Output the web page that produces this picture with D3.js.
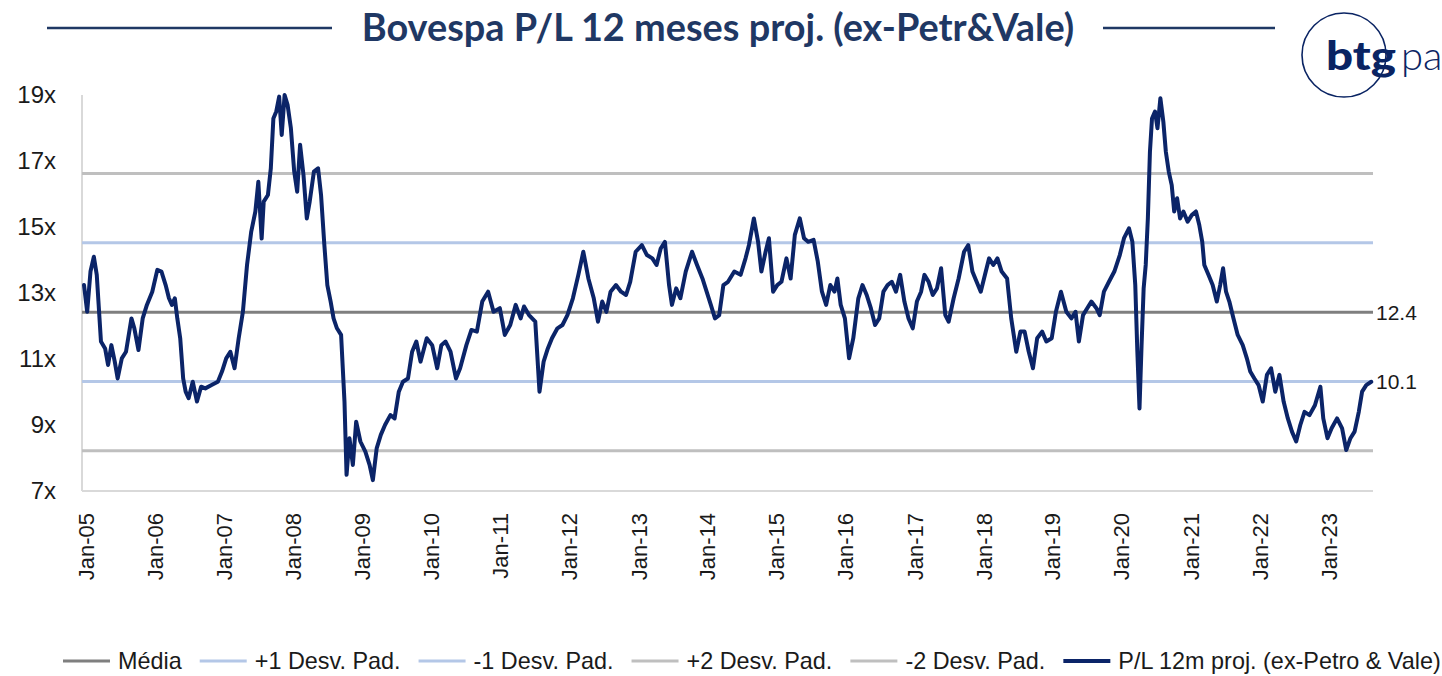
<!DOCTYPE html>
<html>
<head>
<meta charset="utf-8">
<script src="https://cdn.jsdelivr.net/npm/d3@7"></script>
<style>
  body { margin: 0; background: #fff; }
  svg { display: block; }
</style>
</head>
<body>
<svg id="chart" width="1442" height="676"></svg>
<script>
// P/L 12m proj. (ex-Petro & Vale), decimal years
const plYears = [
  2005.000, 2005.046, 2005.094, 2005.143, 2005.185, 2005.246, 2005.306, 2005.349, 2005.397, 2005.446,
  2005.488, 2005.548, 2005.609, 2005.688, 2005.730, 2005.790, 2005.851, 2005.912, 2005.990, 2006.063,
  2006.123, 2006.184, 2006.232, 2006.275, 2006.317, 2006.353, 2006.395, 2006.438, 2006.474, 2006.517,
  2006.577, 2006.638, 2006.698, 2006.759, 2006.850, 2006.941, 2007.001, 2007.062, 2007.122, 2007.183,
  2007.243, 2007.304, 2007.364, 2007.425, 2007.485, 2007.528, 2007.576, 2007.606, 2007.667, 2007.709,
  2007.746, 2007.788, 2007.830, 2007.867, 2007.909, 2007.952, 2008.000, 2008.048, 2008.091, 2008.133,
  2008.182, 2008.230, 2008.272, 2008.333, 2008.393, 2008.436, 2008.484, 2008.527, 2008.575, 2008.617,
  2008.666, 2008.726, 2008.775, 2008.805, 2008.847, 2008.896, 2008.944, 2009.005, 2009.077, 2009.138,
  2009.186, 2009.241, 2009.301, 2009.362, 2009.440, 2009.501, 2009.562, 2009.622, 2009.695, 2009.755,
  2009.816, 2009.877, 2009.967, 2010.046, 2010.119, 2010.179, 2010.240, 2010.312, 2010.391, 2010.451,
  2010.542, 2010.615, 2010.694, 2010.772, 2010.857, 2010.936, 2011.027, 2011.099, 2011.178, 2011.257,
  2011.329, 2011.378, 2011.450, 2011.541, 2011.602, 2011.662, 2011.723, 2011.783, 2011.862, 2011.935,
  2012.007, 2012.086, 2012.165, 2012.237, 2012.310, 2012.388, 2012.449, 2012.510, 2012.570, 2012.631,
  2012.709, 2012.782, 2012.855, 2012.915, 2012.994, 2013.084, 2013.157, 2013.236, 2013.297, 2013.357,
  2013.418, 2013.478, 2013.520, 2013.581, 2013.642, 2013.720, 2013.811, 2013.884, 2013.962, 2014.023,
  2014.084, 2014.144, 2014.205, 2014.266,
  2014.333, 2014.424, 2014.515, 2014.587, 2014.636, 2014.708, 2014.769, 2014.817, 2014.878, 2014.926,
  2014.987, 2015.047, 2015.108, 2015.180, 2015.241, 2015.302, 2015.374, 2015.435, 2015.495, 2015.574,
  2015.635, 2015.695, 2015.756, 2015.816, 2015.877, 2015.919, 2015.967, 2016.028, 2016.088, 2016.149,
  2016.222, 2016.282, 2016.343, 2016.403, 2016.464, 2016.524, 2016.585, 2016.645, 2016.706, 2016.766,
  2016.827, 2016.888, 2016.948, 2017.009, 2017.069, 2017.130, 2017.178, 2017.239, 2017.299, 2017.360,
  2017.420, 2017.481, 2017.529, 2017.602, 2017.674, 2017.753, 2017.814, 2017.874, 2017.935, 2017.995,
  2018.056, 2018.116, 2018.177, 2018.237, 2018.298, 2018.377, 2018.437, 2018.510, 2018.570, 2018.631,
  2018.691, 2018.752, 2018.813, 2018.885, 2018.946, 2019.024, 2019.085, 2019.158, 2019.236, 2019.309,
  2019.369, 2019.418, 2019.478, 2019.539, 2019.599, 2019.672, 2019.720, 2019.781, 2019.854, 2019.932,
  2020.011, 2020.072, 2020.144, 2020.193, 2020.235, 2020.265, 2020.296, 2020.326, 2020.356, 2020.386,
  2020.417, 2020.447, 2020.477, 2020.520, 2020.556, 2020.598, 2020.641, 2020.677, 2020.719, 2020.762,
  2020.798, 2020.840, 2020.883, 2020.931, 2020.992, 2021.052, 2021.113, 2021.161, 2021.204, 2021.234,
  2021.294, 2021.355, 2021.415, 2021.464, 2021.506, 2021.549, 2021.597, 2021.657, 2021.718, 2021.791,
  2021.851, 2021.900, 2021.960, 2022.021, 2022.081, 2022.142, 2022.202, 2022.263, 2022.323, 2022.384,
  2022.445, 2022.505, 2022.566, 2022.626, 2022.687, 2022.759, 2022.838, 2022.917, 2022.959, 2023.020,
  2023.080, 2023.159, 2023.232, 2023.292, 2023.353, 2023.413, 2023.474, 2023.522, 2023.582, 2023.655
];
const plValues = [
  13.24, 12.43, 13.65, 14.10, 13.55, 11.53, 11.32, 10.82, 11.42, 10.92,
  10.41, 11.02, 11.22, 12.23, 11.93, 11.27, 12.23, 12.64, 13.04, 13.70,
  13.65, 13.24, 12.84, 12.64, 12.84, 12.23, 11.63, 10.41, 10.01, 9.81,
  10.31, 9.71, 10.16, 10.11, 10.21, 10.31, 10.62, 11.02, 11.22, 10.72,
  11.63, 12.43, 13.85, 14.86, 15.47, 16.37, 14.65, 15.77, 15.97, 16.78,
  18.29, 18.50, 18.95, 17.79, 19.00, 18.70, 17.99, 16.68, 16.07, 17.49,
  16.58, 15.26, 15.77, 16.68, 16.78, 15.97, 14.45, 13.24, 12.74, 12.23,
  11.93, 11.73, 9.71, 7.49, 8.60, 7.79, 9.10, 8.50, 8.19, 7.79,
  7.33, 8.29, 8.70, 9.00, 9.30, 9.20, 10.01, 10.31, 10.41, 11.22,
  11.53, 10.92, 11.63, 11.42, 10.72, 11.42, 11.53, 11.22, 10.41, 10.72,
  11.42, 11.88, 11.83, 12.74, 13.04, 12.43, 12.54, 11.73, 12.03, 12.64,
  12.23, 12.59, 12.33, 12.13, 10.01, 10.92, 11.32, 11.63, 11.93, 12.03,
  12.33, 12.84, 13.55, 14.25, 13.44, 12.84, 12.13, 12.74, 12.43, 13.04,
  13.24, 13.04, 12.94, 13.34, 14.25, 14.45, 14.15, 14.05, 13.85, 14.35,
  14.55, 13.24, 12.64, 13.14, 12.84, 13.65, 14.25, 13.85, 13.44, 13.04,
  12.64, 12.23, 12.33, 13.24,
  13.34, 13.65, 13.55, 14.05, 14.45, 15.26, 14.55, 13.65, 14.25, 14.66,
  13.04, 13.24, 13.34, 14.05, 13.44, 14.76, 15.26, 14.66, 14.55, 14.61,
  13.95, 13.04, 12.64, 13.24, 13.04, 13.44, 12.64, 12.23, 11.02, 11.63,
  12.84, 13.24, 12.94, 12.54, 12.03, 12.23, 13.04, 13.24, 13.34, 13.04,
  13.55, 12.74, 12.23, 11.93, 12.74, 13.04, 13.55, 13.34, 12.94, 13.14,
  13.75, 12.33, 12.13, 12.84, 13.44, 14.25, 14.45, 13.65, 13.34, 13.04,
  13.55, 14.05, 13.85, 14.05, 13.65, 13.44, 12.23, 11.22, 11.83, 11.83,
  11.22, 10.72, 11.63, 11.83, 11.53, 11.63, 12.43, 13.04, 12.43, 12.23,
  12.43, 11.53, 12.33, 12.54, 12.74, 12.54, 12.33, 13.04, 13.34, 13.65,
  14.15, 14.66, 14.96, 14.55, 13.24, 11.22, 9.50, 11.42, 13.14, 13.85,
  15.26, 17.28, 18.29, 18.50, 17.99, 18.90, 18.19, 17.28, 16.68, 16.27,
  15.47, 15.87, 15.26, 15.47, 15.16, 15.36, 15.47, 15.06, 14.55, 13.85,
  13.55, 13.24, 12.74, 13.24, 13.75, 13.04, 12.74, 12.23, 11.73, 11.42,
  11.02, 10.62, 10.41, 10.21, 9.71, 10.52, 10.72, 10.01, 10.52, 9.71,
  9.20, 8.80, 8.50, 9.00, 9.40, 9.30, 9.60, 10.16, 9.20, 8.60,
  8.90, 9.20, 8.90, 8.24, 8.60, 8.80, 9.40, 10.01, 10.21, 10.31
];

// média / desvios (horizontal reference lines)
const refNames  = ["Média", "+1 Desv. Pad.", "-1 Desv. Pad.", "+2 Desv. Pad.", "-2 Desv. Pad."];
const refValues = [12.42, 14.52, 10.32, 16.62, 8.22];
const refColors = ["#7f7f7f", "#b4c7e7", "#b4c7e7", "#bfbfbf", "#bfbfbf"];

const seriesName = "P/L 12m proj. (ex-Petro & Vale)";
const seriesColor = "#0b2468";
const yTicks = [7, 9, 11, 13, 15, 17, 19];
const xTickYears = d3.range(2005, 2024);
const endLabels = ["12.4", "10.1"];
const titleText = "Bovespa P/L 12 meses proj. (ex-Petr&Vale)";

const navy = "#1f3864";
const textColor = "#1a1a1a";

const toDate = t => {
  const yr = Math.floor(t);
  const start = Date.UTC(yr, 0, 1), end = Date.UTC(yr + 1, 0, 1);
  return new Date(start + (t - yr) * (end - start));
};

const n = Math.min(plYears.length, plValues.length);
const data = d3.range(n).map(i => ({ date: toDate(plYears[i]), value: plValues[i] }));

const svg = d3.select("#chart");

const x = d3.scaleUtc()
  .domain([toDate(2005.0), toDate(2023.68)])
  .range([84, 1373]);

const y = d3.scaleLinear()
  .domain([7, 19])
  .range([491, 95]);

const plotLeft = 82, plotRight = 1373;

// axis frame (light gray)
svg.append("line")
  .attr("x1", plotLeft).attr("x2", plotLeft)
  .attr("y1", y(19)).attr("y2", y(7))
  .attr("stroke", "#d9d9d9").attr("stroke-width", 2);
svg.append("line")
  .attr("x1", plotLeft).attr("x2", plotRight)
  .attr("y1", y(7)).attr("y2", y(7))
  .attr("stroke", "#d9d9d9").attr("stroke-width", 2);

// reference lines
svg.append("g").selectAll("line")
  .data(refValues)
  .join("line")
  .attr("x1", plotLeft).attr("x2", plotRight)
  .attr("y1", d => y(d)).attr("y2", d => y(d))
  .attr("stroke", (d, i) => refColors[i])
  .attr("stroke-width", 3);

// y axis labels
const yAxis = d3.axisLeft(y)
  .tickValues(yTicks)
  .tickFormat(d => d + "x")
  .tickSize(0)
  .tickPadding(0);
const gy = svg.append("g")
  .attr("transform", "translate(56,0)")
  .call(yAxis);
gy.select(".domain").remove();
gy.selectAll("text")
  .attr("font-family", "'Liberation Sans', Arial, sans-serif")
  .attr("font-size", 24)
  .attr("fill", textColor);

// x axis labels (rotated)
const xAxis = d3.axisBottom(x)
  .tickValues(xTickYears.map(yr => toDate(yr)))
  .tickFormat(d3.utcFormat("Jan-%y"))
  .tickSize(0)
  .tickPadding(0);
const gx = svg.append("g")
  .attr("transform", "translate(2,513)")
  .call(xAxis);
gx.select(".domain").remove();
gx.selectAll("text")
  .attr("font-family", "'Liberation Sans', Arial, sans-serif")
  .attr("font-size", 22)
  .attr("fill", textColor)
  .attr("transform", "rotate(-90)")
  .attr("text-anchor", "end")
  .attr("x", 0)
  .attr("y", 0)
  .attr("dy", "0.36em");

// series line
const line = d3.line()
  .x(d => x(d.date))
  .y(d => y(d.value));

svg.append("path")
  .datum(data)
  .attr("fill", "none")
  .attr("stroke", seriesColor)
  .attr("stroke-width", 4)
  .attr("stroke-linejoin", "round")
  .attr("stroke-linecap", "round")
  .attr("d", line);

// end labels
const last = data[data.length - 1];
svg.append("g").selectAll("text")
  .data([{ t: endLabels[0], v: refValues[0] }, { t: endLabels[1], v: last.value }])
  .join("text")
  .attr("x", plotRight + 3)
  .attr("y", d => y(d.v))
  .attr("dy", "0.36em")
  .attr("font-family", "'Liberation Sans', Arial, sans-serif")
  .attr("font-size", 21)
  .attr("fill", textColor)
  .text(d => d.t);

// title
const title = svg.append("text")
  .attr("x", 718)
  .attr("y", 41)
  .attr("text-anchor", "middle")
  .attr("font-family", "Lato, 'Open Sans', sans-serif")
  .attr("font-weight", 700)
  .attr("font-size", 32)
  .attr("fill", navy)
  .text(titleText);
const tw = title.node().getComputedTextLength();
title.attr("font-size", 32 * 713 / tw);

svg.append("line").attr("x1", 47).attr("x2", 332).attr("y1", 28).attr("y2", 28)
  .attr("stroke", navy).attr("stroke-width", 2.5);
svg.append("line").attr("x1", 1103).attr("x2", 1275).attr("y1", 28).attr("y2", 28)
  .attr("stroke", navy).attr("stroke-width", 2.5);

// logo
const logoColor = "#0a2463";
svg.append("circle")
  .attr("cx", 1344).attr("cy", 55).attr("r", 42)
  .attr("fill", "none").attr("stroke", logoColor).attr("stroke-width", 1.6);
svg.append("text")
  .attr("x", 1326).attr("y", 70)
  .attr("font-family", "Lato, sans-serif").attr("font-weight", 900)
  .attr("font-size", 40)
  .attr("textLength", 70).attr("lengthAdjust", "spacingAndGlyphs")
  .attr("fill", logoColor)
  .text("btg");
svg.append("text")
  .attr("x", 1401).attr("y", 70)
  .attr("font-family", "Lato, sans-serif").attr("font-weight", 300)
  .attr("font-size", 40)
  .attr("fill", logoColor)
  .text("pa");

// legend
const legendItems = refNames.map((name, i) => ({ name, color: refColors[i], width: 3 }))
  .concat([{ name: seriesName, color: seriesColor, width: 4 }]);
const legend = svg.append("g").attr("transform", "translate(0,661)");
let lx = 63;
legendItems.forEach(item => {
  const g = legend.append("g").attr("transform", `translate(${lx},0)`);
  g.append("line").attr("x1", 0).attr("x2", 47).attr("y1", 0).attr("y2", 0)
    .attr("stroke", item.color).attr("stroke-width", item.width);
  const t = g.append("text")
    .attr("x", 55).attr("dy", "0.36em")
    .attr("font-family", "'Liberation Sans', Arial, sans-serif")
    .attr("font-size", 23.4)
    .attr("fill", textColor)
    .text(item.name);
  lx += 55 + t.node().getComputedTextLength() + 18;
});
</script>
</body>
</html>
